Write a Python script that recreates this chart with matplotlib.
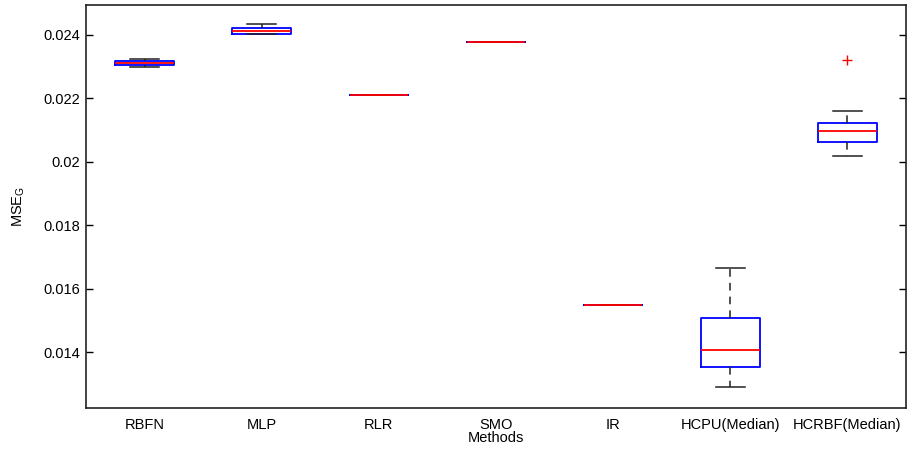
import matplotlib
matplotlib.use("Agg")
import matplotlib.pyplot as plt

plt.rcParams['font.family'] = ['Liberation Sans', 'DejaVu Sans']

methods = ["RBFN", "MLP", "RLR", "SMO", "IR", "HCPU(Median)", "HCRBF(Median)"]
q1 = [0.02305, 0.024025, 0.022085, 0.023754, 0.01548, 0.013518, 0.020614]
median = [0.02311, 0.02411, 0.022085, 0.023754, 0.01548, 0.014063, 0.02097]
q3 = [0.02317, 0.024205, 0.022085, 0.023754, 0.01548, 0.01508, 0.021203]
whisker_low = [0.02297, 0.02401, 0.022085, 0.023754, 0.01548, 0.012898, 0.020173]
whisker_high = [0.02322, 0.02433, 0.022085, 0.023754, 0.01548, 0.016655, 0.02159]
outliers = [[], [], [], [], [], [], [0.023197]]
yticks = [0.014, 0.016, 0.018, 0.02, 0.022, 0.024]
ytick_labels = ["0.014", "0.016", "0.018", "0.02", "0.022", "0.024"]

stats = []
for name, a, m, b, lo, hi, fl in zip(methods, q1, median, q3,
                                     whisker_low, whisker_high, outliers):
    stats.append(dict(label=name, q1=a, med=m, q3=b,
                      whislo=lo, whishi=hi, fliers=fl))

fig = plt.figure(figsize=(9.12, 4.5), dpi=100)
ax = fig.add_axes([86 / 912, 42 / 450, 820 / 912, 403 / 450])

positions = list(range(1, len(methods) + 1))
ax.bxp(stats, positions=positions, widths=0.5, showfliers=True,
       boxprops=dict(color='#0000ff', linewidth=1.3),
       medianprops=dict(color='#ff0000', linewidth=1.3),
       whiskerprops=dict(color='#222222', linewidth=1.1, linestyle=(0, (5, 4))),
       capprops=dict(color='#222222', linewidth=1.1),
       flierprops=dict(marker='+', markeredgecolor='#ff0000', markersize=7,
                       linestyle='none'),
       capwidths=0.25)

ax.set_xlim(0.5, 7.5)
ax.set_ylim(0.01224, 0.02493)
ax.set_xticks(positions)
ax.set_xticklabels(methods, fontsize=10.5)
ax.set_yticks(yticks)
ax.set_yticklabels(ytick_labels, fontsize=10.5)
ax.tick_params(axis='x', length=0, pad=7)
ax.tick_params(axis='y', direction='in', length=5, width=1, right=True,
               left=True, pad=4)
for s in ax.spines.values():
    s.set_linewidth(1.2)
    s.set_color('#222222')

ax.set_ylabel("MSE$_\\mathregular{G}$", fontsize=10.5, labelpad=12)
ax.text(0.5, -0.058, "Methods", transform=ax.transAxes, ha='center',
        va='top', fontsize=10.5)

fig.savefig("out.png", dpi=100)
